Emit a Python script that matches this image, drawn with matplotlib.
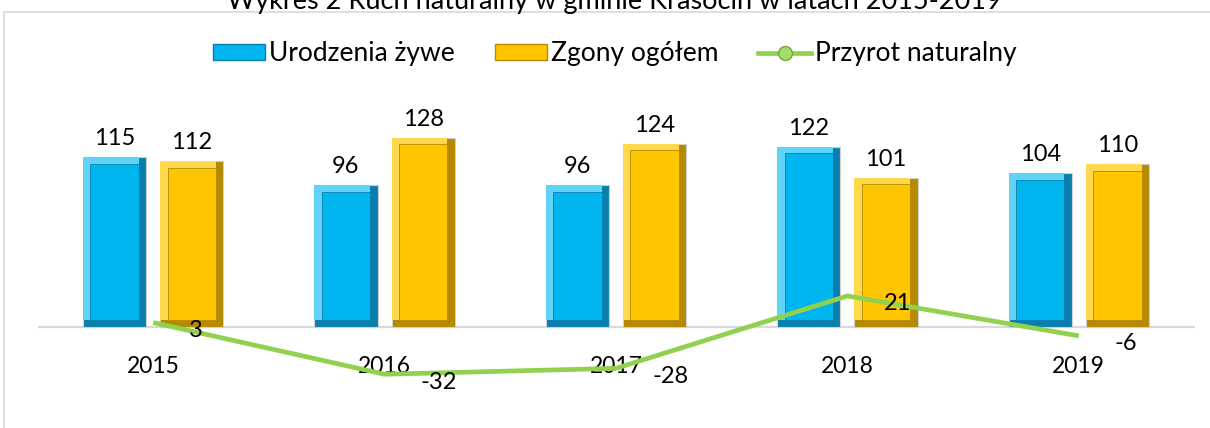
import matplotlib.pyplot as plt
import numpy as np
from matplotlib.lines import Line2D
from matplotlib.patches import Patch

plt.rcParams['font.family'] = ['Lato', 'DejaVu Sans']

# Data
years = ['2015', '2016', '2017', '2018', '2019']
births = [115, 96, 96, 122, 104]
deaths = [112, 128, 124, 101, 110]
growth = [3, -32, -28, 21, -6]

x = np.arange(len(years))
w = 0.273
off = 0.167
bx = 0.032   # bevel width (x units)
by = 4.5     # bevel height (y units)

fig = plt.figure(figsize=(12.1, 4.28), dpi=100)
ax = fig.add_axes([37.5 / 1210, 18 / 428, 1157 / 1210, 315 / 428])


def bevel_bars(xpos, vals, main, light, dark):
    vals = np.array(vals, dtype=float)
    ax.bar(xpos, vals, w, color=dark, edgecolor='#d0d0d0', linewidth=0.8, zorder=2)
    ax.bar(xpos - bx / 2, vals - by, w - bx, bottom=by, color=light, linewidth=0, zorder=3)
    ax.bar(xpos, vals - 2 * by, w - 2 * bx, bottom=by, color=main,
           edgecolor=dark, linewidth=0.6, zorder=4)


bevel_bars(x - off, births, '#00b4ee', '#5fd3f8', '#0a7fae')
bevel_bars(x + off, deaths, '#ffc600', '#ffd84d', '#b58a00')

for xi, v in zip(x - off, births):
    ax.annotate(str(v), (xi, v), xytext=(0, 8), textcoords='offset pixels',
                ha='center', va='bottom', fontsize=17)
for xi, v in zip(x + off, deaths):
    ax.annotate(str(v), (xi, v), xytext=(0, 8), textcoords='offset pixels',
                ha='center', va='bottom', fontsize=17)

ax.plot(x, growth, color='#92d050', linewidth=3.4, zorder=5, solid_capstyle='butt')
for xi, v in zip(x, growth):
    ax.annotate(str(v), (xi, v), xytext=(36, -8), textcoords='offset pixels',
                ha='left', va='center', fontsize=17, zorder=6)

ax.axhline(0, color='#d9d9d9', linewidth=1.6, zorder=1)
ax.set_xlim(-0.5, 4.5)
ax.set_ylim(-56.2, 157)
ax.set_xticks([])
ax.set_yticks([])
for s in ax.spines.values():
    s.set_visible(False)

# category labels just below the zero line
for xi, yl in zip(x, years):
    ax.annotate(yl, (xi, 0), xytext=(0, -40), textcoords='offset pixels',
                ha='center', va='center', fontsize=16.5)

handles = [
    Patch(facecolor='#00b4ee', edgecolor='#0a7fae', label='Urodzenia żywe'),
    Patch(facecolor='#ffc600', edgecolor='#b58a00', label='Zgony ogółem'),
    Line2D([0], [0], color='#92d050', linewidth=3.4, marker='o', markersize=10,
           markerfacecolor='#a6db6a', markeredgecolor='#6fa83a', label='Przyrot naturalny'),
]
fig.legend(handles=handles, loc='center', bbox_to_anchor=(0.508, 1 - 54 / 428), ncol=3,
           frameon=False, fontsize=19, handlelength=2.0, handleheight=0.55,
           handletextpad=0.15, columnspacing=1.5)

fig.text(0.508, 1 - 1 / 428, 'Wykres 2 Ruch naturalny w gminie Krasocin w latach 2015-2019',
         ha='center', va='center', fontsize=19.5)

# chart area border (top and left)
fig.add_artist(Line2D([4 / 1210, 1], [1 - 12 / 428, 1 - 12 / 428], color='#d9d9d9', linewidth=1.2))
fig.add_artist(Line2D([4 / 1210, 4 / 1210], [0, 1 - 12 / 428], color='#d9d9d9', linewidth=1.2))

fig.savefig('out.png', dpi=100)
